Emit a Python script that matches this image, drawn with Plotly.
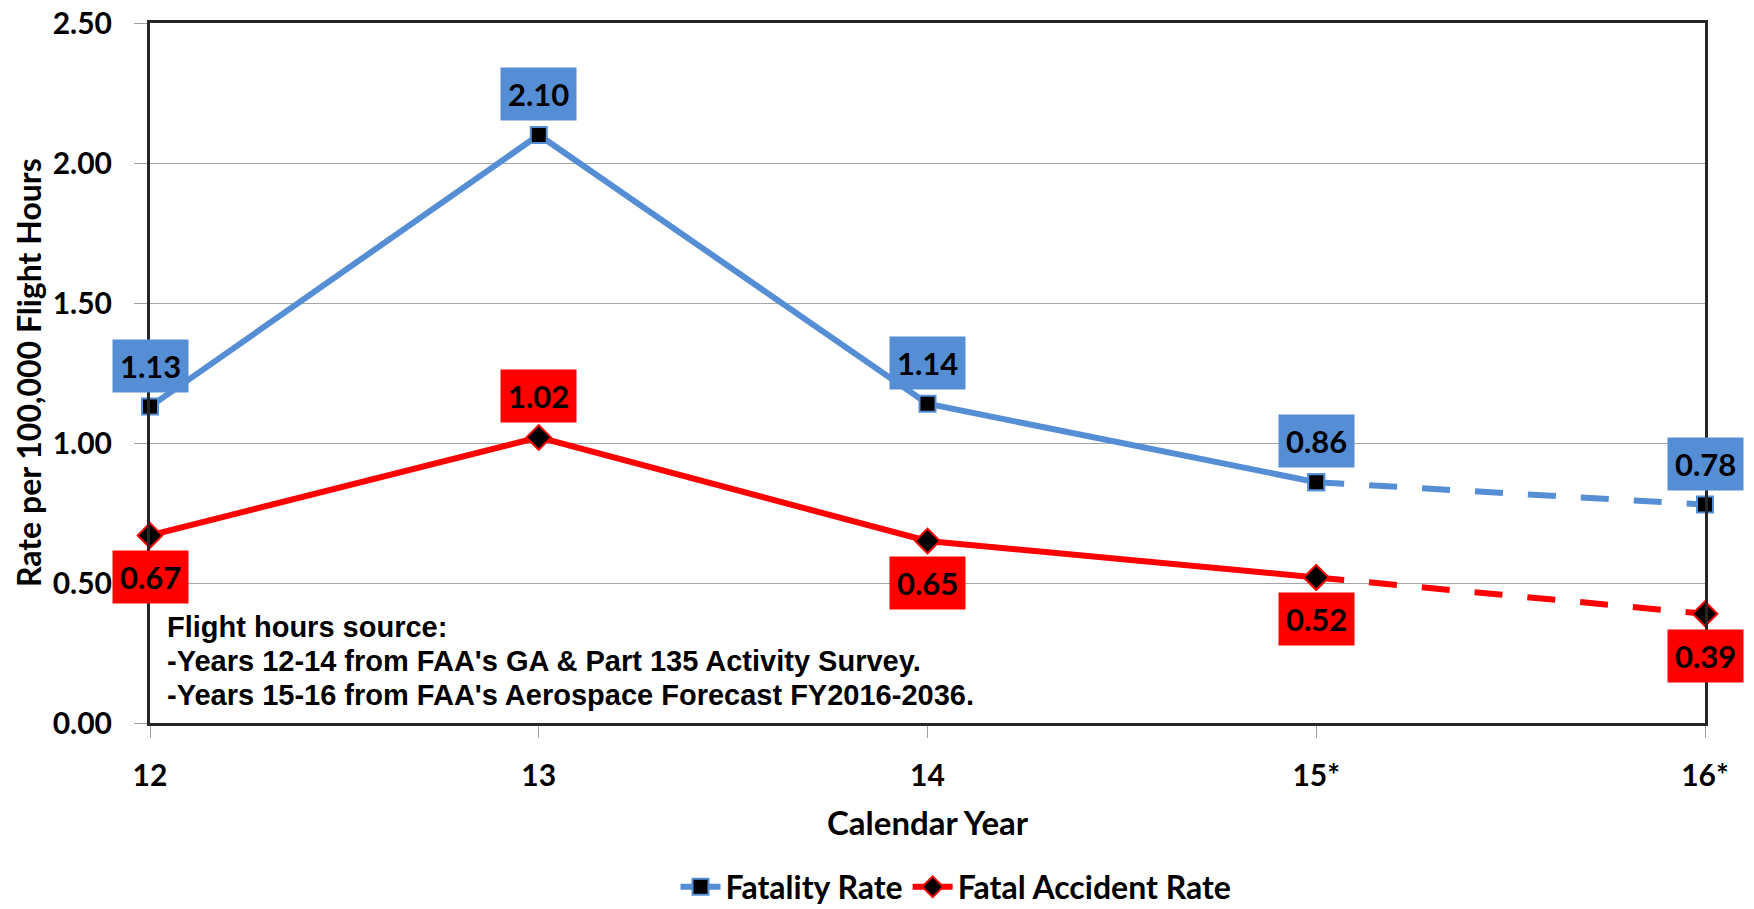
import plotly.graph_objects as go

years = ["12", "13", "14", "15*", "16*"]
fatality_rate = [1.13, 2.10, 1.14, 0.86, 0.78]
fatal_accident_rate = [0.67, 1.02, 0.65, 0.52, 0.39]
fatality_label_pos = ["above", "above", "above", "above", "above"]
accident_label_pos = ["below", "above", "below", "below", "below"]
y_ticks = [0.0, 0.5, 1.0, 1.5, 2.0, 2.5]
note_lines = [
    "Flight hours source:",
    "-Years 12-14 from FAA's GA & Part 135 Activity Survey.",
    "-Years 15-16 from FAA's Aerospace Forecast FY2016-2036.",
]

BLUE = "#558ED5"
RED = "#FF0000"
FONT = "Lato"
idx = list(range(len(years)))

# plot area in page pixels
PL, PR, PT, PB = 150, 1705, 23, 723
PW, PH = PR - PL, PB - PT

fig = go.Figure()

sq_marker = dict(symbol="square", size=16, color="black", line=dict(color=BLUE, width=2))
di_marker = dict(symbol="diamond", size=19, color="black", line=dict(color=RED, width=2))

fig.add_trace(go.Scatter(
    x=years[:4], y=fatality_rate[:4], mode="lines+markers", name="Fatality Rate",
    line=dict(color=BLUE, width=6), marker=sq_marker, cliponaxis=False,
))
fig.add_trace(go.Scatter(
    x=years[:4], y=fatal_accident_rate[:4], mode="lines+markers", name="Fatal Accident Rate",
    line=dict(color=RED, width=6), marker=di_marker, cliponaxis=False,
))
fig.add_trace(go.Scatter(
    x=years[3:], y=fatality_rate[3:], mode="lines+markers", showlegend=False,
    line=dict(color=BLUE, width=6, dash="28px,25px"), marker=sq_marker, cliponaxis=False,
))
fig.add_trace(go.Scatter(
    x=years[3:], y=fatal_accident_rate[3:], mode="lines+markers", showlegend=False,
    line=dict(color=RED, width=6, dash="28px,25px"), marker=di_marker, cliponaxis=False,
))

annotations = []
for i, v, pos in zip(idx, fatality_rate, fatality_label_pos):
    annotations.append(dict(
        x=i, y=v, xref="x", yref="y", text=f"{v:.2f}", showarrow=False,
        yshift=41 if pos == "above" else -42, bgcolor=BLUE, borderpad=7,
        font=dict(family=FONT, size=31, color="black", weight="bold"),
    ))
for i, v, pos in zip(idx, fatal_accident_rate, accident_label_pos):
    annotations.append(dict(
        x=i, y=v, xref="x", yref="y", text=f"{v:.2f}", showarrow=False,
        yshift=41 if pos == "above" else -42, bgcolor=RED, borderpad=7,
        font=dict(family=FONT, size=31, color="black", weight="bold"),
    ))

note_centers = [627, 661, 695]
for line, cy in zip(note_lines, note_centers):
    annotations.append(dict(
        x=(165 - PL) / PW, y=(PB - cy) / PH, xref="paper", yref="paper",
        xanchor="left", yanchor="middle", align="left", showarrow=False,
        text=line,
        font=dict(family="Arial", size=29, color="black", weight="bold"),
    ))
annotations.append(dict(
    x=(28 - PL) / PW, y=0.5, xref="paper", yref="paper",
    xanchor="center", yanchor="middle", showarrow=False, textangle=-90,
    text="Rate per 100,000 Flight Hours",
    font=dict(family=FONT, size=32, color="black", weight="bold"),
))
annotations.append(dict(
    x=0.5, y=(PB - 822) / PH, xref="paper", yref="paper",
    xanchor="center", yanchor="middle", showarrow=False,
    text="Calendar Year",
    font=dict(family=FONT, size=33, color="black", weight="bold"),
))

fig.update_layout(
    width=1754, height=909,
    margin=dict(l=PL, r=1754 - PR, t=PT, b=909 - PB, autoexpand=False),
    plot_bgcolor="white", paper_bgcolor="white",
    showlegend=True,
    legend=dict(
        orientation="h", x=(956 - PL) / PW, xanchor="center", y=(PB - 887) / PH, yanchor="middle",
        font=dict(family=FONT, size=32, color="black", weight="bold"),
        itemwidth=40, tracegroupgap=0, bgcolor="rgba(0,0,0,0)",
    ),
    annotations=annotations,
)
fig.update_xaxes(
    type="category", range=[0, 4], showgrid=False, automargin=False,
    showline=True, linecolor="#262626", linewidth=3, mirror=True,
    ticks="outside", ticklen=12, tickcolor="#A0A0A0", tickwidth=1,
    tickfont=dict(family=FONT, size=30, color="black", weight="bold"),
    ticklabelstandoff=12,
)
fig.update_yaxes(
    range=[0, 2.5], tickvals=y_ticks, tickformat=".2f", automargin=False,
    showgrid=True, gridcolor="#A6A6A6", gridwidth=1,
    showline=True, linecolor="#262626", linewidth=3, mirror=True,
    ticks="outside", ticklen=13, tickcolor="#A0A0A0", tickwidth=1,
    tickfont=dict(family=FONT, size=30, color="black", weight="bold"),
    ticklabelstandoff=16, zeroline=False,
)

fig.write_html("out.html", config={"displayModeBar": False},
               post_script="document.body.style.margin='0';")
